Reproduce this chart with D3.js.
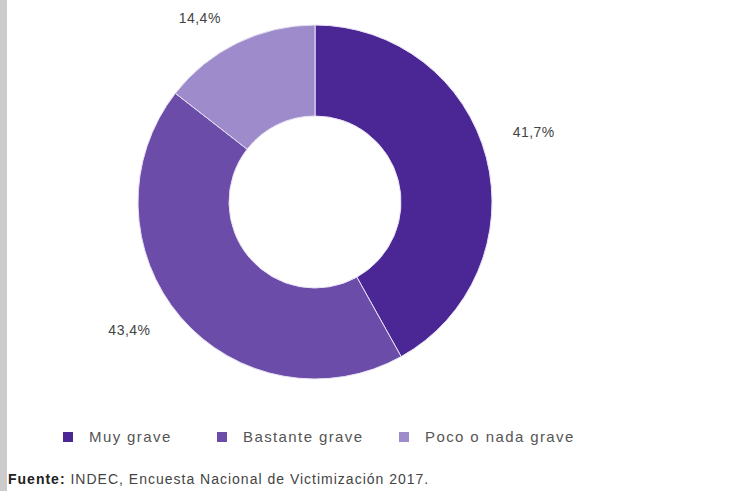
<!DOCTYPE html>
<html>
<head>
<meta charset="utf-8">
<script src="https://cdn.jsdelivr.net/npm/d3@7.9.0/dist/d3.min.js"></script>
<style>
  body { margin: 0; background: #fff; }
  svg { display: block; font-family: "Liberation Sans", Arial, sans-serif; }
</style>
</head>
<body>
<div id="chart"></div>
<script>
// data
const categories = ["Muy grave", "Bastante grave", "Poco o nada grave"];
const values = [41.7, 43.4, 14.4];
const valueLabels = ["41,7%", "43,4%", "14,4%"];
const colors = ["#4a2794", "#6c4ca9", "#9d8bcc"];
const sourceBold = "Fuente:";
const sourceText = " INDEC, Encuesta Nacional de Victimización 2017.";

const width = 753, height = 491;
const cx = 315, cy = 202;
const outerR = 177, innerR = 86;
const labelR = 226;
// hand nudges for the labels (same as the original layout)
const labelNudge = [[0, -12], [-14, -18], [-16, 20]];

const svg = d3.select("#chart").append("svg")
  .attr("width", width)
  .attr("height", height);

// grey strip on the left edge
svg.append("rect")
  .attr("x", 0).attr("y", 0)
  .attr("width", 7).attr("height", height)
  .attr("fill", "#cccccc");

const data = categories.map((c, i) => ({ cat: c, value: values[i], label: valueLabels[i], color: colors[i] }));

const pie = d3.pie().sort(null).value(d => d.value);
const arc = d3.arc().innerRadius(innerR).outerRadius(outerR);
const labelArc = d3.arc().innerRadius(labelR).outerRadius(labelR);

const g = svg.append("g").attr("transform", `translate(${cx},${cy})`);

const arcs = pie(data);

g.selectAll("path")
  .data(arcs)
  .join("path")
    .attr("d", arc)
    .attr("fill", d => d.data.color)
    .attr("stroke", "#e8e2f4")
    .attr("stroke-width", 1);

g.selectAll("text.pct")
  .data(arcs)
  .join("text")
    .attr("class", "pct")
    .attr("x", (d, i) => labelArc.centroid(d)[0] + labelNudge[i][0])
    .attr("y", (d, i) => labelArc.centroid(d)[1] + labelNudge[i][1])
    .attr("text-anchor", "middle")
    .attr("dominant-baseline", "middle")
    .attr("font-size", 14)
    .attr("letter-spacing", 0.5)
    .attr("fill", "#444")
    .text(d => d.data.label);

// legend
const legendX = [63, 217, 399];
const legend = svg.append("g").attr("transform", "translate(0, 437)");
const item = legend.selectAll("g")
  .data(data)
  .join("g")
    .attr("transform", (d, i) => `translate(${legendX[i]},0)`);

item.append("rect")
  .attr("x", 0).attr("y", -5)
  .attr("width", 10).attr("height", 10)
  .attr("fill", d => d.color);

item.append("text")
  .attr("x", 26)
  .attr("y", 5)
  .attr("font-size", 15)
  .attr("letter-spacing", 1.4)
  .attr("fill", "#555")
  .text(d => d.cat);

// source
const src = svg.append("text")
  .attr("x", 8)
  .attr("y", 484)
  .attr("font-size", 14)
  .attr("letter-spacing", 1.0)
  .attr("fill", "#444");
src.append("tspan").attr("font-weight", "bold").attr("fill", "#222").text(sourceBold);
src.append("tspan").text(sourceText);
</script>
</body>
</html>
